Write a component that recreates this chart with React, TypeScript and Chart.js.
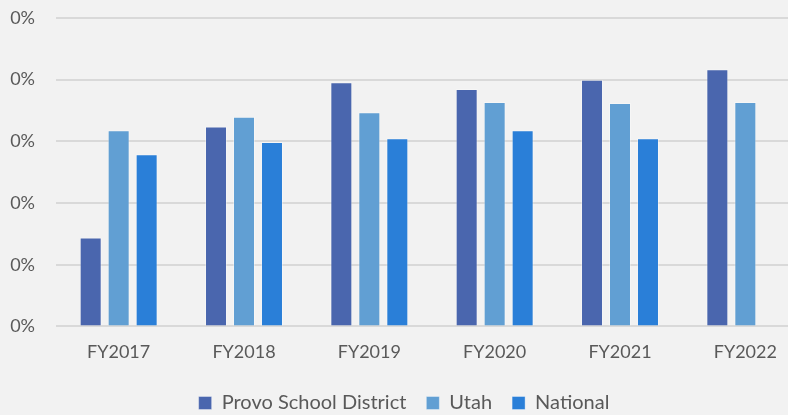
import React, { useEffect, useRef } from "react";
import { Chart, registerables } from "chart.js";

Chart.register(...registerables);

const categories = ["FY2017", "FY2018", "FY2019", "FY2020", "FY2021", "FY2022"];
const provo = [1.44, 3.24, 3.96, 3.85, 4.0, 4.17];
const utah = [3.18, 3.4, 3.47, 3.64, 3.62, 3.64];
const national = [2.79, 2.99, 3.05, 3.18, 3.05, null];
const seriesNames = ["Provo School District", "Utah", "National"];
const yTickLabel = "0%";

const FONT = "Lato, 'Open Sans', sans-serif";
const LEGEND_HEIGHT = 37;
const LEGEND_SHIFT = -5;

const legendFix = {
  id: "legendFix",
  beforeUpdate(chart: any) {
    const l = chart.legend;
    if (l && !l.__patched) {
      const origFit = l.fit;
      l.fit = function () {
        origFit.call(this);
        this.height = LEGEND_HEIGHT;
      };
      const origDraw = l.draw;
      l.draw = function () {
        const c = this.ctx;
        c.save();
        c.translate(0, LEGEND_SHIFT);
        origDraw.call(this);
        c.restore();
      };
      l.__patched = true;
    }
  },
};

export default function App() {
  const ref = useRef<HTMLCanvasElement | null>(null);

  useEffect(() => {
    document.body.style.margin = "0";
    document.body.style.background = "#f2f2f2";
    const ctx = ref.current!;
    const border = "rgba(255,255,255,0.35)";
    const chart = new Chart(ctx, {
      type: "bar",
      data: {
        labels: categories,
        datasets: [
          { label: seriesNames[0], data: provo, backgroundColor: "#4a66ae", borderColor: border, borderWidth: 1 },
          { label: seriesNames[1], data: utah, backgroundColor: "#619fd3", borderColor: border, borderWidth: 1 },
          { label: seriesNames[2], data: national as any, backgroundColor: "#2a7fd8", borderColor: border, borderWidth: 1 },
        ],
      },
      plugins: [legendFix],
      options: {
        animation: false,
        responsive: false,
        maintainAspectRatio: false,
        layout: { padding: { top: 18, left: 0, right: 0, bottom: 0 } },
        datasets: { bar: { categoryPercentage: 0.67, barPercentage: 0.786 } },
        plugins: {
          tooltip: { enabled: false },
          legend: {
            position: "bottom",
            labels: {
              boxWidth: 13,
              boxHeight: 13,
              padding: 20,
              color: "#595959",
              font: { family: FONT, size: 20 },
            },
          },
        },
        scales: {
          x: {
            grid: { display: false, drawTicks: false },
            border: { display: false },
            ticks: { color: "#595959", padding: 15, font: { family: FONT, size: 18 }, maxRotation: 0 },
          },
          y: {
            min: 0,
            max: 5,
            afterFit: (s: any) => {
              s.width = 56;
              s.paddingTop = 0;
              s.paddingBottom = 0;
            },
            grid: { color: "#d9d9d9", lineWidth: 2, drawTicks: false },
            border: { display: false },
            ticks: {
              stepSize: 1,
              padding: 21,
              color: "#595959",
              font: { family: FONT, size: 18 },
              callback: () => yTickLabel,
            },
          },
        },
      },
    });
    return () => chart.destroy();
  }, []);

  return (
    <div style={{ width: 788, height: 415, overflow: "hidden", background: "#f2f2f2", position: "relative" }}>
      <canvas ref={ref} width={808} height={415} style={{ position: "absolute", left: 0, top: 0, width: 808, height: 415 }} />
    </div>
  );
}
